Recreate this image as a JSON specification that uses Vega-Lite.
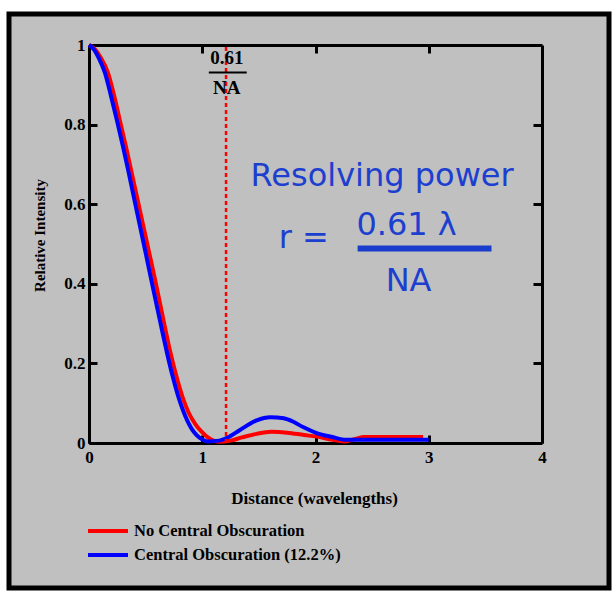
{
  "$schema": "https://vega.github.io/schema/vega-lite/v6.json",
  "autosize": {"type": "none"},
  "width": 600,
  "height": 574,
  "padding": {"left": 9, "top": 14, "right": 4, "bottom": 3},
  "background": "white",
  "view": {"fill": "#c0c0c0", "stroke": "black", "strokeWidth": 5},
  "config": {
    "axis": {"grid": false, "domainColor": "black", "domainWidth": 3, "tickColor": "black", "tickWidth": 3,
      "labelFont": "Liberation Serif", "labelFontWeight": "bold", "labelFontSize": 17, "labelColor": "black",
      "titleFont": "Liberation Serif", "titleFontWeight": "bold", "titleColor": "black"},
    "legend": {"labelFont": "Liberation Serif", "labelFontWeight": "bold", "labelFontSize": 16.5, "labelColor": "black", "labelLimit": 0}
  },
  "datasets": {
    "curves": [
      {"x": 0.0, "y": 1.0, "s": "No Central Obscuration"},
      {"x": 0.05, "y": 0.99, "s": "No Central Obscuration"},
      {"x": 0.1, "y": 0.97, "s": "No Central Obscuration"},
      {"x": 0.168, "y": 0.93, "s": "No Central Obscuration"},
      {"x": 0.22, "y": 0.875, "s": "No Central Obscuration"},
      {"x": 0.273, "y": 0.81, "s": "No Central Obscuration"},
      {"x": 0.33, "y": 0.74, "s": "No Central Obscuration"},
      {"x": 0.38, "y": 0.675, "s": "No Central Obscuration"},
      {"x": 0.43, "y": 0.61, "s": "No Central Obscuration"},
      {"x": 0.48, "y": 0.545, "s": "No Central Obscuration"},
      {"x": 0.53, "y": 0.48, "s": "No Central Obscuration"},
      {"x": 0.58, "y": 0.415, "s": "No Central Obscuration"},
      {"x": 0.63, "y": 0.347, "s": "No Central Obscuration"},
      {"x": 0.675, "y": 0.285, "s": "No Central Obscuration"},
      {"x": 0.72, "y": 0.226, "s": "No Central Obscuration"},
      {"x": 0.776, "y": 0.163, "s": "No Central Obscuration"},
      {"x": 0.83, "y": 0.112, "s": "No Central Obscuration"},
      {"x": 0.88, "y": 0.076, "s": "No Central Obscuration"},
      {"x": 0.94, "y": 0.047, "s": "No Central Obscuration"},
      {"x": 0.996, "y": 0.028, "s": "No Central Obscuration"},
      {"x": 1.05, "y": 0.014, "s": "No Central Obscuration"},
      {"x": 1.1, "y": 0.006, "s": "No Central Obscuration"},
      {"x": 1.15, "y": 0.003, "s": "No Central Obscuration"},
      {"x": 1.25, "y": 0.006, "s": "No Central Obscuration"},
      {"x": 1.35, "y": 0.014, "s": "No Central Obscuration"},
      {"x": 1.48, "y": 0.023, "s": "No Central Obscuration"},
      {"x": 1.61, "y": 0.028, "s": "No Central Obscuration"},
      {"x": 1.75, "y": 0.026, "s": "No Central Obscuration"},
      {"x": 1.9, "y": 0.02, "s": "No Central Obscuration"},
      {"x": 2.01, "y": 0.016, "s": "No Central Obscuration"},
      {"x": 2.15, "y": 0.008, "s": "No Central Obscuration"},
      {"x": 2.25, "y": 0.004, "s": "No Central Obscuration"},
      {"x": 2.35, "y": 0.01, "s": "No Central Obscuration"},
      {"x": 2.43, "y": 0.015, "s": "No Central Obscuration"},
      {"x": 2.7, "y": 0.015, "s": "No Central Obscuration"},
      {"x": 2.95, "y": 0.015, "s": "No Central Obscuration"},
      {"x": 0.0, "y": 1.0, "s": "Central Obscuration (12.2%)"},
      {"x": 0.04, "y": 0.99, "s": "Central Obscuration (12.2%)"},
      {"x": 0.09, "y": 0.965, "s": "Central Obscuration (12.2%)"},
      {"x": 0.141, "y": 0.93, "s": "Central Obscuration (12.2%)"},
      {"x": 0.194, "y": 0.872, "s": "Central Obscuration (12.2%)"},
      {"x": 0.247, "y": 0.81, "s": "Central Obscuration (12.2%)"},
      {"x": 0.3, "y": 0.745, "s": "Central Obscuration (12.2%)"},
      {"x": 0.35, "y": 0.68, "s": "Central Obscuration (12.2%)"},
      {"x": 0.4, "y": 0.612, "s": "Central Obscuration (12.2%)"},
      {"x": 0.45, "y": 0.545, "s": "Central Obscuration (12.2%)"},
      {"x": 0.5, "y": 0.478, "s": "Central Obscuration (12.2%)"},
      {"x": 0.55, "y": 0.41, "s": "Central Obscuration (12.2%)"},
      {"x": 0.6, "y": 0.343, "s": "Central Obscuration (12.2%)"},
      {"x": 0.645, "y": 0.283, "s": "Central Obscuration (12.2%)"},
      {"x": 0.69, "y": 0.225, "s": "Central Obscuration (12.2%)"},
      {"x": 0.741, "y": 0.165, "s": "Central Obscuration (12.2%)"},
      {"x": 0.79, "y": 0.115, "s": "Central Obscuration (12.2%)"},
      {"x": 0.829, "y": 0.083, "s": "Central Obscuration (12.2%)"},
      {"x": 0.87, "y": 0.055, "s": "Central Obscuration (12.2%)"},
      {"x": 0.908, "y": 0.035, "s": "Central Obscuration (12.2%)"},
      {"x": 0.95, "y": 0.02, "s": "Central Obscuration (12.2%)"},
      {"x": 1.0, "y": 0.009, "s": "Central Obscuration (12.2%)"},
      {"x": 1.05, "y": 0.004, "s": "Central Obscuration (12.2%)"},
      {"x": 1.15, "y": 0.006, "s": "Central Obscuration (12.2%)"},
      {"x": 1.24, "y": 0.016, "s": "Central Obscuration (12.2%)"},
      {"x": 1.33, "y": 0.032, "s": "Central Obscuration (12.2%)"},
      {"x": 1.48, "y": 0.057, "s": "Central Obscuration (12.2%)"},
      {"x": 1.6, "y": 0.065, "s": "Central Obscuration (12.2%)"},
      {"x": 1.72, "y": 0.062, "s": "Central Obscuration (12.2%)"},
      {"x": 1.8, "y": 0.054, "s": "Central Obscuration (12.2%)"},
      {"x": 1.89, "y": 0.04, "s": "Central Obscuration (12.2%)"},
      {"x": 2.01, "y": 0.025, "s": "Central Obscuration (12.2%)"},
      {"x": 2.15, "y": 0.015, "s": "Central Obscuration (12.2%)"},
      {"x": 2.27, "y": 0.008, "s": "Central Obscuration (12.2%)"},
      {"x": 2.6, "y": 0.008, "s": "Central Obscuration (12.2%)"},
      {"x": 3.0, "y": 0.008, "s": "Central Obscuration (12.2%)"}
    ]
  },
  "resolve": {"axis": {"x": "independent", "y": "independent"}},
  "layer": [
    {
      "data": {"name": "curves"},
      "mark": {"type": "line", "strokeWidth": 4, "interpolate": "monotone"},
      "encoding": {
        "x": {"field": "x", "type": "quantitative", "scale": {"domain": [0, 4], "range": [80, 533], "nice": false, "zero": false},
          "axis": {"orient": "bottom", "offset": -145, "values": [0, 1, 2, 3, 4], "tickSize": -8, "labelPadding": 14,
            "title": "Distance (wavelengths)", "titleFontSize": 17, "titleX": 305, "titleY": 55, "titleAlign": "center", "titleBaseline": "middle", "labelFlush": false}},
        "y": {"field": "y", "type": "quantitative", "scale": {"domain": [0, 1], "range": [429, 31], "nice": false, "zero": false},
          "axis": {"orient": "left", "offset": -80, "values": [0, 0.2, 0.4, 0.6, 0.8, 1], "labelExpr": "'' + datum.value", "tickSize": -8, "labelPadding": 12,
            "title": "Relative Intensity", "titleFontSize": 15, "titleAngle": -90, "titleX": -50, "titleY": 221, "titleAlign": "center", "titleBaseline": "middle", "labelFlush": false}},
        "color": {"field": "s", "type": "nominal",
          "scale": {"domain": ["No Central Obscuration", "Central Obscuration (12.2%)"], "range": ["#ff0000", "#0000ff"]},
          "legend": {"orient": "none", "legendX": 87, "legendY": 505, "title": null, "symbolType": "M-2,0H2", "symbolSize": 400, "symbolStrokeWidth": 4, "labelOffset": 14, "rowPadding": 3, "padding": 0, "labelLimit": 0}}
      }
    },
    {
      "data": {"values": [{"x": 0, "y": 0}]},
      "mark": {"type": "point", "opacity": 0},
      "encoding": {
        "x": {"field": "x", "type": "quantitative", "scale": {"domain": [0, 4], "range": [80, 533], "nice": false, "zero": false},
          "axis": {"orient": "top", "offset": -31, "values": [1, 2, 3], "tickSize": -8, "labels": false, "title": null}},
        "y": {"field": "y", "type": "quantitative", "scale": {"domain": [0, 1], "range": [429, 31], "nice": false, "zero": false},
          "axis": {"orient": "right", "offset": -67, "values": [0.2, 0.4, 0.6, 0.8], "tickSize": -9, "labels": false, "title": null}}
      }
    },
    {
      "data": {"values": [{"x": 1.21}]},
      "mark": {"type": "rule", "color": "#ff0000", "strokeWidth": 2.5, "strokeDash": [4, 3]},
      "encoding": {
        "x": {"field": "x", "type": "quantitative", "scale": {"domain": [0, 4], "range": [80, 533], "nice": false, "zero": false}, "axis": null},
        "y": {"datum": 0, "type": "quantitative", "scale": {"domain": [0, 1], "range": [429, 31], "nice": false, "zero": false}, "axis": null},
        "y2": {"datum": 1}
      }
    },
    {
      "data": {"values": [{"x": 2.372, "x2": 3.554, "y": 0.489, "c": "#1a3ccc"}, {"x": 1.058, "x2": 1.393, "y": 0.931, "c": "black"}]},
      "mark": {"type": "rule"},
      "encoding": {
        "x": {"field": "x", "type": "quantitative", "scale": {"domain": [0, 4], "range": [80, 533], "nice": false, "zero": false}, "axis": null},
        "x2": {"field": "x2"},
        "y": {"field": "y", "type": "quantitative", "scale": {"domain": [0, 1], "range": [429, 31], "nice": false, "zero": false}, "axis": null},
        "color": {"field": "c", "type": "nominal", "scale": null, "legend": null},
        "strokeWidth": {"field": "c", "type": "nominal", "scale": {"domain": ["#1a3ccc", "black"], "range": [6, 2]}, "legend": null}
      }
    },
    {
      "data": {"values": [
        {"t": "Resolving power", "x": 2.588, "y": 0.671},
        {"t": "r =", "x": 1.896, "y": 0.515},
        {"t": "0.61 λ", "x": 2.804, "y": 0.548},
        {"t": "NA", "x": 2.822, "y": 0.407}
      ]},
      "mark": {"type": "text", "font": "DejaVu Sans", "fontSize": 32, "color": "#1c3fd0", "align": "center", "baseline": "middle"},
      "encoding": {
        "x": {"field": "x", "type": "quantitative", "scale": {"domain": [0, 4], "range": [80, 533], "nice": false, "zero": false}, "axis": null},
        "y": {"field": "y", "type": "quantitative", "scale": {"domain": [0, 1], "range": [429, 31], "nice": false, "zero": false}, "axis": null},
        "text": {"field": "t"}
      }
    },
    {
      "data": {"values": [
        {"t": "0.61", "x": 1.217, "y": 0.967},
        {"t": "NA", "x": 1.217, "y": 0.892}
      ]},
      "mark": {"type": "text", "font": "Liberation Serif", "fontWeight": "bold", "fontSize": 19, "color": "black", "align": "center", "baseline": "middle"},
      "encoding": {
        "x": {"field": "x", "type": "quantitative", "scale": {"domain": [0, 4], "range": [80, 533], "nice": false, "zero": false}, "axis": null},
        "y": {"field": "y", "type": "quantitative", "scale": {"domain": [0, 1], "range": [429, 31], "nice": false, "zero": false}, "axis": null},
        "text": {"field": "t"}
      }
    }
  ]
}
